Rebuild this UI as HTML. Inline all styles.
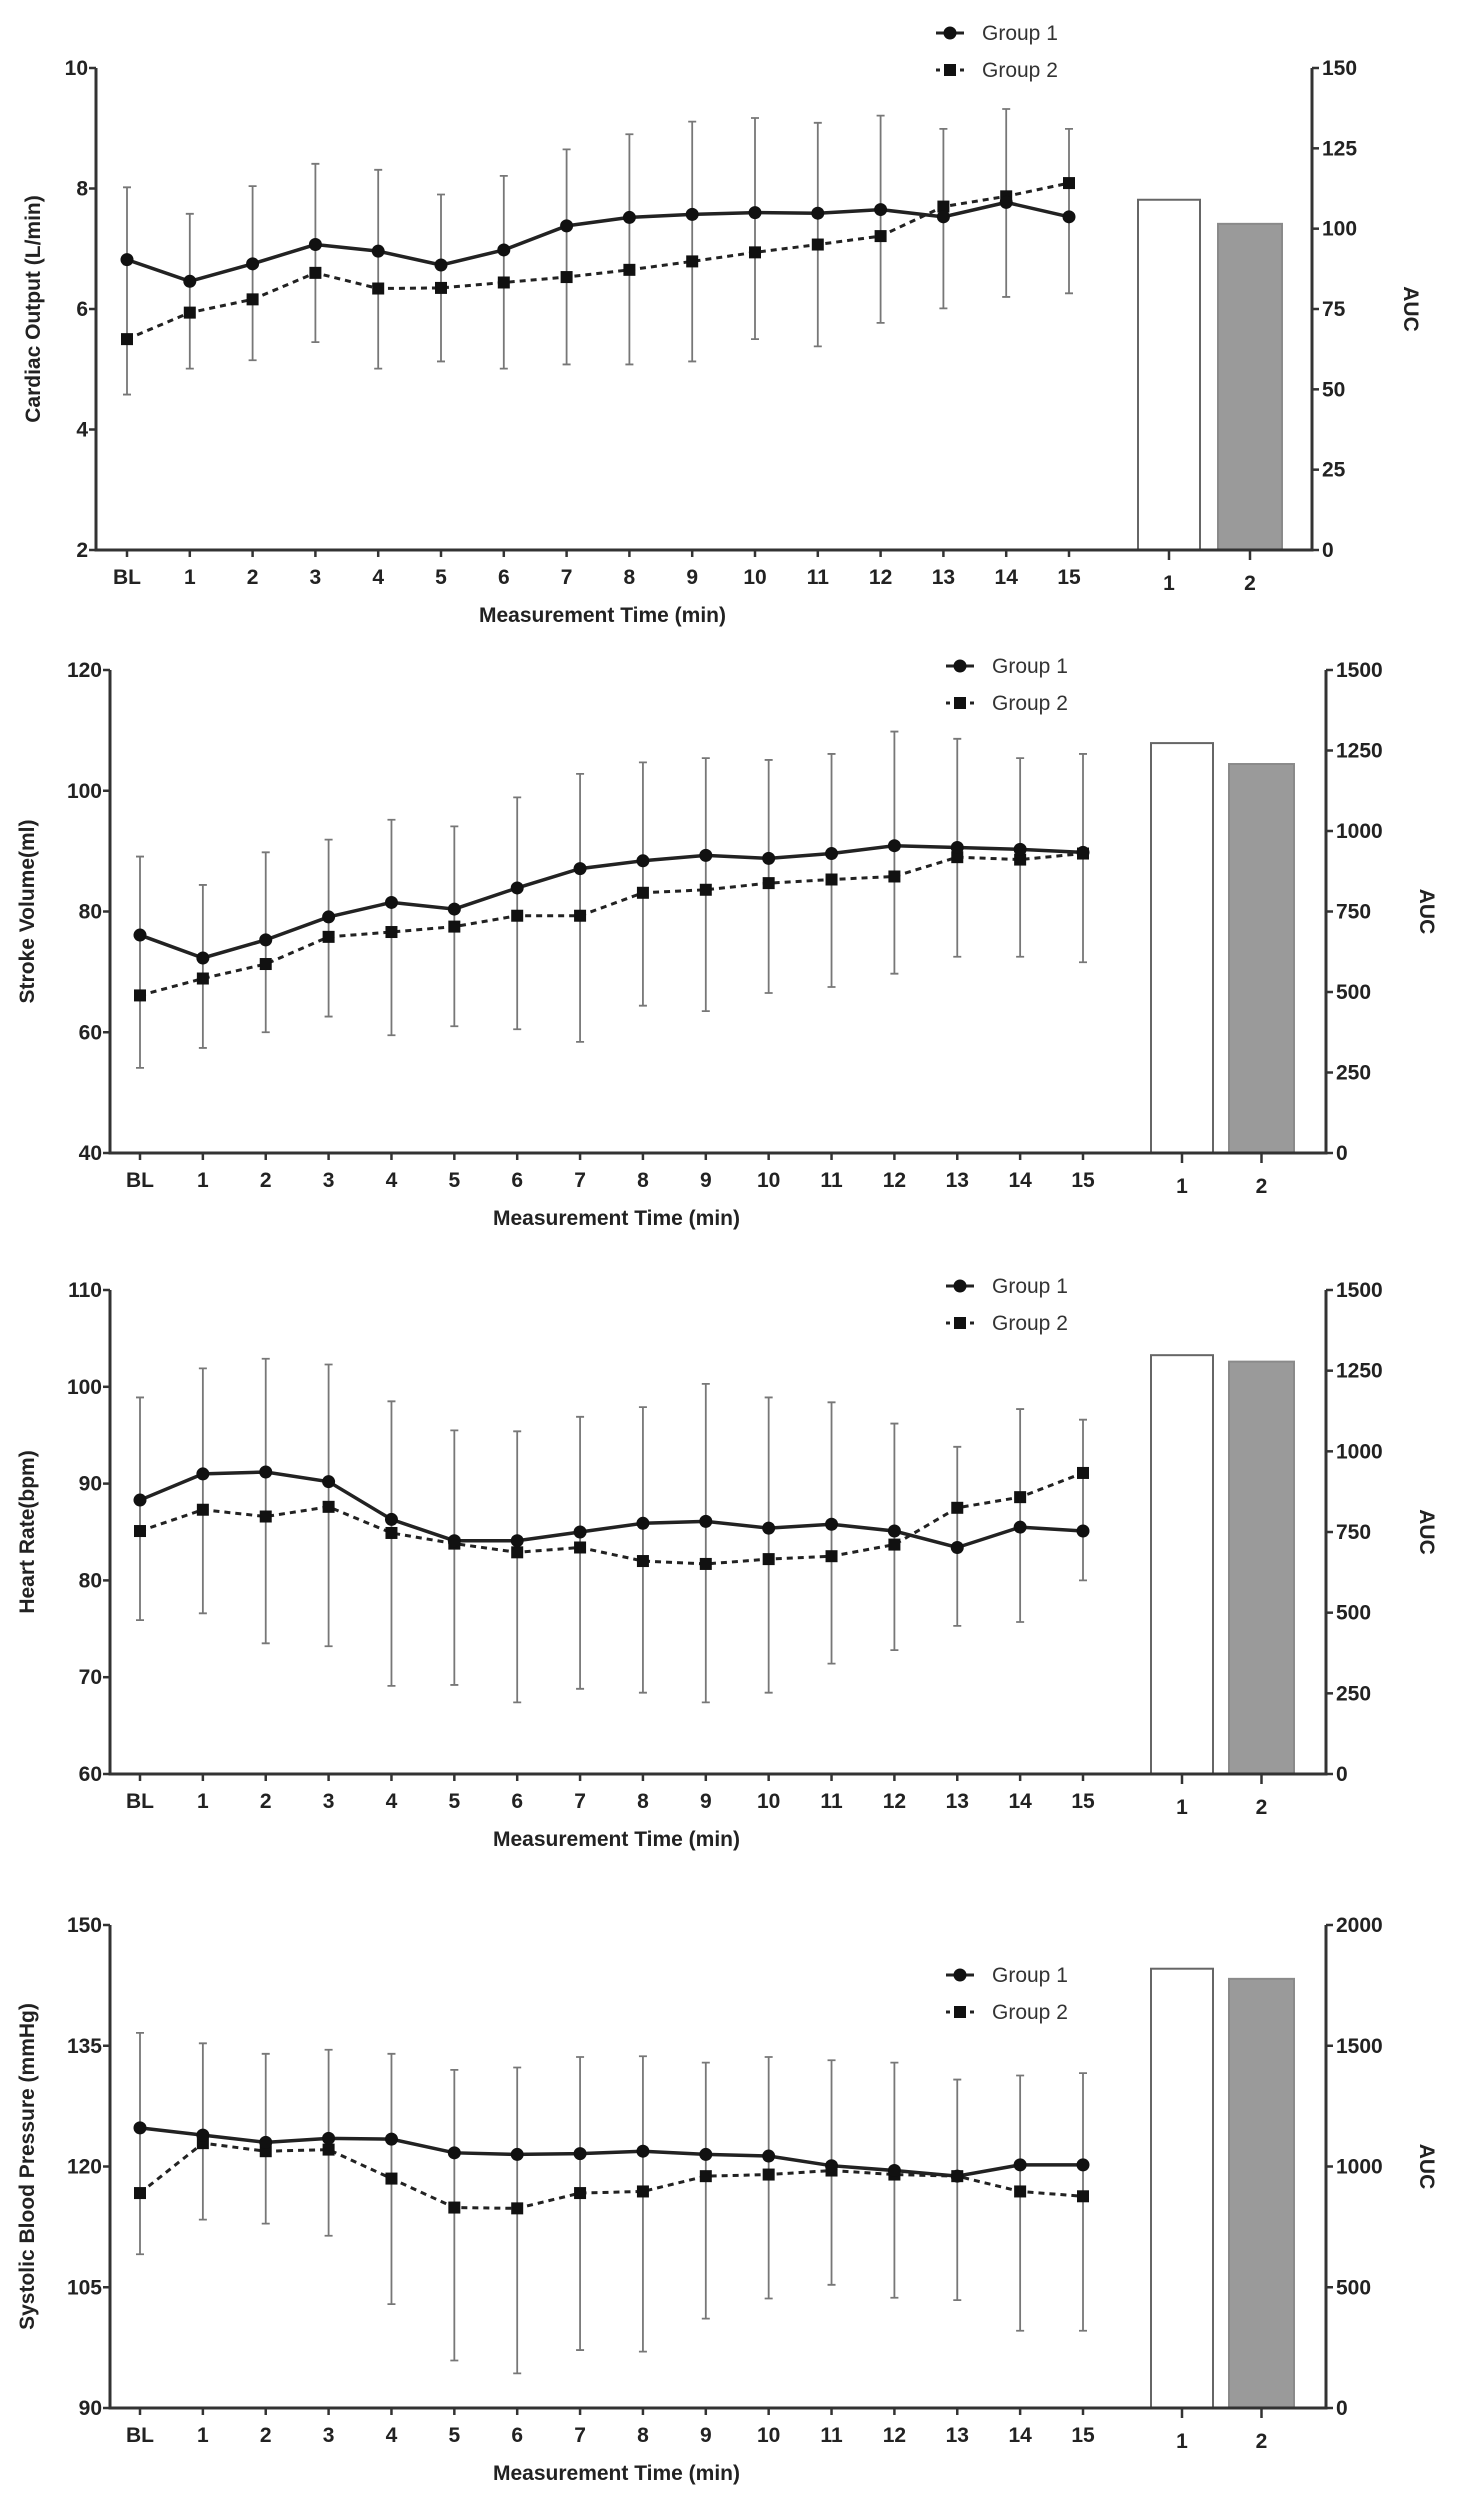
<!DOCTYPE html>
<html><head><meta charset="utf-8">
<style>
html,body{margin:0;padding:0;background:#fff;}
svg{display:block;font-family:"Liberation Sans",Arial,sans-serif;}
.tick{font-size:21px;font-weight:bold;fill:#222;}
.title{font-size:21px;font-weight:bold;fill:#222;}
.leg{font-size:21px;fill:#333;}
</style></head>
<body>
<svg id="chart" width="1461" height="2500" viewBox="0 0 1461 2500" xmlns="http://www.w3.org/2000/svg"></svg>
<script>
// ---- data ----
const timeLabels = ["BL","1","2","3","4","5","6","7","8","9","10","11","12","13","14","15"];
const barLabels = ["1","2"];

const coGroup1 = [6.82,6.46,6.75,7.07,6.96,6.73,6.98,7.38,7.52,7.57,7.60,7.59,7.65,7.53,7.77,7.53];
const coGroup2 = [5.50,5.94,6.16,6.60,6.34,6.35,6.44,6.53,6.65,6.79,6.94,7.07,7.21,7.70,7.87,8.09];
const coUpper = [8.02,7.58,8.04,8.41,8.31,7.90,8.21,8.65,8.90,9.11,9.17,9.09,9.21,8.99,9.32,8.99];
const coLower = [4.58,5.01,5.15,5.45,5.01,5.13,5.01,5.08,5.08,5.13,5.50,5.38,5.77,6.01,6.20,6.26];
const coAuc = [109,101.5];
const coLeftTicks = [2,4,6,8,10];
const coRightTicks = [0,25,50,75,100,125,150];

const svGroup1 = [76.1,72.3,75.3,79.1,81.5,80.4,83.9,87.1,88.4,89.3,88.8,89.6,90.9,90.6,90.3,89.8];
const svGroup2 = [66.1,68.9,71.3,75.8,76.6,77.5,79.3,79.3,83.1,83.6,84.7,85.3,85.8,89.0,88.6,89.6];
const svUpper = [89.1,84.4,89.8,91.9,95.2,94.1,98.9,102.8,104.7,105.4,105.1,106.1,109.8,108.6,105.4,106.1];
const svLower = [54.1,57.4,60.0,62.6,59.5,61.0,60.5,58.4,64.4,63.5,66.5,67.5,69.7,72.5,72.5,71.6];
const svAuc = [1273,1208];
const svLeftTicks = [40,60,80,100,120];
const svRightTicks = [0,250,500,750,1000,1250,1500];

const hrGroup1 = [88.3,91.0,91.2,90.2,86.3,84.1,84.1,85.0,85.9,86.1,85.4,85.8,85.1,83.4,85.5,85.1];
const hrGroup2 = [85.1,87.3,86.6,87.6,84.9,83.8,82.9,83.4,82.0,81.7,82.2,82.5,83.7,87.5,88.6,91.1];
const hrUpper = [98.9,101.9,102.9,102.3,98.5,95.5,95.4,96.9,97.9,100.3,98.9,98.4,96.2,93.8,97.7,96.6];
const hrLower = [75.9,76.6,73.5,73.2,69.1,69.2,67.4,68.8,68.4,67.4,68.4,71.4,72.8,75.3,75.7,80.0];
const hrAuc = [1298,1278];
const hrLeftTicks = [60,70,80,90,100,110];
const hrRightTicks = [0,250,500,750,1000,1250,1500];

const sbpGroup1 = [124.8,123.9,123.0,123.5,123.4,121.7,121.5,121.6,121.9,121.5,121.3,120.1,119.5,118.8,120.2,120.2];
const sbpGroup2 = [116.7,122.9,121.9,122.1,118.5,114.9,114.8,116.7,116.9,118.8,119.0,119.5,119.0,118.8,116.9,116.3];
const sbpUpper = [136.6,135.3,134.0,134.5,134.0,132.0,132.3,133.6,133.7,132.9,133.6,133.2,132.9,130.8,131.3,131.6];
const sbpLower = [109.1,113.4,112.9,111.4,102.9,95.9,94.3,97.2,97.0,101.1,103.6,105.3,103.7,103.4,99.6,99.6];
const sbpAuc = [1819,1777];
const sbpLeftTicks = [90,105,120,135,150];
const sbpRightTicks = [0,500,1000,1500,2000];

const NS="http://www.w3.org/2000/svg";
const root=document.getElementById('chart');
function mk(tag,attrs,parent){const e=document.createElementNS(NS,tag);for(const k in attrs)e.setAttribute(k,attrs[k]);(parent||root).appendChild(e);return e;}

function panel(cfg){
  const g=mk('g',{});
  
  
  const L=cfg.left,R=cfg.right,T=cfg.top,B=cfg.bottom;
  const yMin=cfg.leftTicks[0],yMax=cfg.leftTicks[cfg.leftTicks.length-1];
  const rMax=cfg.rightTicks[cfg.rightTicks.length-1];
  const y=v=>B-(v-yMin)/(yMax-yMin)*(B-T);
  const yr=v=>B-v/rMax*(B-T);
  const step=(cfg.x15-cfg.x0)/15;
  const x=i=>cfg.x0+i*step;
  // bars
  const barX=[cfg.bar1,cfg.bar2];
  cfg.auc.forEach((v,i)=>{
    const r=mk('rect',{x:barX[i][0],y:yr(v),width:barX[i][1]-barX[i][0],height:B-yr(v),fill:i?'#9a9a9a':'#fff',stroke:i?'#8a8a8a':'#666','stroke-width':2},g);
    
    
  });
  // axes
  const ax=mk('path',{d:`M${L} ${T}V${B}H${R}V${T}`,fill:'none',stroke:'#333','stroke-width':3},g);
  
  
  cfg.leftTicks.forEach(t=>{
    mk('line',{x1:L-7,x2:L,y1:y(t),y2:y(t),stroke:'#333','stroke-width':2.5},g);
    const tx=mk('text',{x:L-8,y:y(t)+7,'text-anchor':'end',class:'tick'},g);tx.textContent=t;
    
    
  });
  cfg.rightTicks.forEach(t=>{
    mk('line',{x1:R,x2:R+7,y1:yr(t),y2:yr(t),stroke:'#333','stroke-width':2.5},g);
    const tx=mk('text',{x:R+10,y:yr(t)+7,'text-anchor':'start',class:'tick'},g);tx.textContent=t;
    
    
  });
  timeLabels.forEach((lab,i)=>{
    mk('line',{x1:x(i),x2:x(i),y1:B,y2:B+7,stroke:'#333','stroke-width':2.5},g);
    const tx=mk('text',{x:x(i),y:B+34,'text-anchor':'middle',class:'tick'},g);tx.textContent=lab;
    
    
  });
  barLabels.forEach((lab,i)=>{
    const cx=(barX[i][0]+barX[i][1])/2;
    mk('line',{x1:cx,x2:cx,y1:B,y2:B+10,stroke:'#333','stroke-width':2.5},g);
    const tx=mk('text',{x:cx,y:B+40,'text-anchor':'middle',class:'tick'},g);tx.textContent=lab;
    
    
  });
  const xt=mk('text',{x:(L+cfg.x15)/2+20,y:B+72,'text-anchor':'middle',class:'title'},g);xt.textContent='Measurement Time (min)';
  
  
  const yc=(T+B)/2;
  const yt=mk('text',{x:cfg.ytx,y:yc,'text-anchor':'middle',class:'title',transform:`rotate(-90 ${cfg.ytx} ${yc})`},g);yt.textContent=cfg.ytitle;
  
  
  const at=mk('text',{x:cfg.aucx,y:yc,'text-anchor':'middle',class:'title',transform:`rotate(90 ${cfg.aucx} ${yc})`},g);at.textContent='AUC';
  
  
  // error bars
  cfg.upper.forEach((u,i)=>{
    const lo=cfg.lower[i];
    const eb=mk('path',{d:`M${x(i)} ${y(u)}V${y(lo)}M${x(i)-4} ${y(u)}h8M${x(i)-4} ${y(lo)}h8`,stroke:'#777','stroke-width':1.8,fill:'none'},g);
    
    
  });
  // lines
  const p2=cfg.g2.map((v,i)=>`${i?'L':'M'}${x(i)} ${y(v)}`).join('');
  const l2=mk('path',{d:p2,fill:'none',stroke:'#222','stroke-width':3,'stroke-dasharray':'6 5'},g);
  
  
  const p1=cfg.g1.map((v,i)=>`${i?'L':'M'}${x(i)} ${y(v)}`).join('');
  const l1=mk('path',{d:p1,fill:'none',stroke:'#222','stroke-width':3.5},g);
  
  
  cfg.g2.forEach((v,i)=>{
    const m=mk('rect',{x:x(i)-6,y:y(v)-6,width:12,height:12,fill:'#111'},g);
    
    
  });
  cfg.g1.forEach((v,i)=>{
    const m=mk('circle',{cx:x(i),cy:y(v),r:6.5,fill:'#111'},g);
    
    
  });
  // legend
  const lx=cfg.legx, ly1=cfg.legy, ly2=cfg.legy+37;
  const e1=mk('g',{},g);
  
  
  mk('line',{x1:lx-14,x2:lx+14,y1:ly1,y2:ly1,stroke:'#222','stroke-width':3},e1);
  mk('circle',{cx:lx,cy:ly1,r:6.5,fill:'#111'},e1);
  const t1=mk('text',{x:lx+32,y:ly1+7,class:'leg'},e1);t1.textContent='Group 1';
  const e2=mk('g',{},g);
  
  
  mk('line',{x1:lx-14,x2:lx+14,y1:ly2,y2:ly2,stroke:'#222','stroke-width':3,'stroke-dasharray':'4 4'},e2);
  mk('rect',{x:lx-6,y:ly2-6,width:12,height:12,fill:'#111'},e2);
  const t2=mk('text',{x:lx+32,y:ly2+7,class:'leg'},e2);t2.textContent='Group 2';
}

panel({name:'cardiac-output-panel',left:96,right:1312,top:68,bottom:550,x0:127,x15:1069,bar1:[1138,1200],bar2:[1218,1282],
  leftTicks:coLeftTicks,rightTicks:coRightTicks,g1:coGroup1,g2:coGroup2,upper:coUpper,lower:coLower,auc:coAuc,
  ytitle:'Cardiac Output (L/min)',ytx:40,aucx:1404,legx:950,legy:33});
panel({name:'stroke-volume-panel',left:110,right:1326,top:670,bottom:1153,x0:140,x15:1083,bar1:[1151,1213],bar2:[1229,1294],
  leftTicks:svLeftTicks,rightTicks:svRightTicks,g1:svGroup1,g2:svGroup2,upper:svUpper,lower:svLower,auc:svAuc,
  ytitle:'Stroke Volume(ml)',ytx:34,aucx:1420,legx:960,legy:666});
panel({name:'heart-rate-panel',left:110,right:1326,top:1290,bottom:1774,x0:140,x15:1083,bar1:[1151,1213],bar2:[1229,1294],
  leftTicks:hrLeftTicks,rightTicks:hrRightTicks,g1:hrGroup1,g2:hrGroup2,upper:hrUpper,lower:hrLower,auc:hrAuc,
  ytitle:'Heart Rate(bpm)',ytx:34,aucx:1420,legx:960,legy:1286});
panel({name:'systolic-bp-panel',left:110,right:1326,top:1925,bottom:2408,x0:140,x15:1083,bar1:[1151,1213],bar2:[1229,1294],
  leftTicks:sbpLeftTicks,rightTicks:sbpRightTicks,g1:sbpGroup1,g2:sbpGroup2,upper:sbpUpper,lower:sbpLower,auc:sbpAuc,
  ytitle:'Systolic Blood Pressure (mmHg)',ytx:34,aucx:1420,legx:960,legy:1975});
</script>
</body></html>
